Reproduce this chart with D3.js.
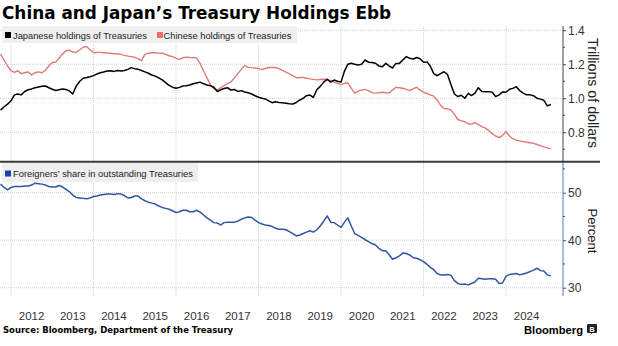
<!DOCTYPE html>
<html><head><meta charset="utf-8">
<script src="https://cdn.jsdelivr.net/npm/d3@7"></script>
<style>body{margin:0;background:#fff;} svg{display:block;font-family:"Liberation Sans",Arial,sans-serif;}</style>
</head><body><svg id="c" width="618" height="346"></svg>
<script>
// ---- data (monthly, Oct 2011 .. Feb 2025) ----
const firstMonth = new Date(2011, 9, 1);
const lastMonthExcl = new Date(2025, 2, 1);
const japan = [
0.93,0.95,0.965,0.985,1.02,1.025,1.02,1.04,1.05,1.055,
1.062,1.066,1.07,1.072,1.062,1.053,1.046,1.05,1.055,1.052,
1.043,1.025,1.072,1.1,1.118,1.122,1.127,1.133,1.143,1.15,
1.155,1.16,1.162,1.158,1.163,1.16,1.163,1.17,1.18,1.174,
1.17,1.163,1.155,1.147,1.137,1.13,1.12,1.108,1.092,1.076,
1.065,1.059,1.064,1.072,1.073,1.078,1.085,1.09,1.095,1.085,
1.078,1.074,1.065,1.04,1.05,1.057,1.062,1.048,1.052,1.04,
1.045,1.037,1.033,1.025,1.015,1.006,1.0,0.996,0.985,0.974,
0.98,0.975,0.974,0.971,0.968,0.966,0.975,0.99,1.0,1.015,
1.019,1.005,1.05,1.07,1.095,1.112,1.095,1.107,1.1,1.095,
1.16,1.2,1.206,1.2,1.195,1.2,1.225,1.212,1.21,1.206,
1.19,1.185,1.205,1.19,1.178,1.205,1.205,1.225,1.245,1.235,
1.231,1.24,1.232,1.212,1.214,1.19,1.145,1.133,1.145,1.156,
1.14,1.08,1.025,1.01,1.018,1.0,1.029,1.016,1.03,1.062,
1.04,1.039,1.039,1.035,1.01,1.02,1.037,1.035,1.053,1.058,
1.068,1.045,1.03,1.02,1.02,1.015,1.0,0.995,0.988,0.955,
0.963];
const china = [
1.26,1.225,1.19,1.162,1.152,1.162,1.145,1.15,1.155,1.137,
1.15,1.155,1.15,1.165,1.19,1.21,1.213,1.235,1.26,1.28,
1.282,1.272,1.27,1.285,1.3,1.305,1.285,1.268,1.27,1.27,
1.268,1.266,1.265,1.262,1.262,1.258,1.252,1.248,1.245,1.241,
1.232,1.221,1.258,1.265,1.268,1.268,1.266,1.265,1.258,1.25,
1.245,1.235,1.229,1.238,1.242,1.24,1.239,1.237,1.205,1.16,
1.12,1.08,1.055,1.05,1.062,1.075,1.086,1.096,1.12,1.145,
1.17,1.192,1.183,1.18,1.178,1.175,1.168,1.175,1.181,1.181,
1.181,1.174,1.164,1.153,1.143,1.132,1.121,1.122,1.122,1.118,
1.114,1.111,1.108,1.11,1.112,1.11,1.105,1.095,1.088,1.08,
1.088,1.09,1.058,1.03,1.042,1.048,1.052,1.045,1.033,1.03,
1.033,1.035,1.032,1.03,1.048,1.064,1.062,1.059,1.052,1.045,
1.055,1.065,1.048,1.035,1.028,1.02,1.012,0.99,0.958,0.94,
0.938,0.93,0.905,0.875,0.867,0.862,0.85,0.848,0.857,0.845,
0.833,0.826,0.81,0.792,0.778,0.768,0.78,0.804,0.778,0.762,
0.754,0.749,0.745,0.741,0.738,0.735,0.728,0.721,0.714,0.708,
0.702];
const foreignShare = [
51.8,51.1,50.6,51.1,51.3,51.3,51.3,51.4,51.4,51.6,
52.0,51.9,51.8,51.6,51.3,51.2,51.2,51.5,51.2,50.7,
50.2,49.5,49.0,48.9,48.8,48.7,48.9,49.2,49.3,49.5,
49.6,49.7,49.7,49.6,49.8,49.7,49.4,48.9,49.0,49.3,
49.3,48.7,48.3,48.0,47.8,47.6,47.2,46.9,46.7,46.5,
46.2,45.8,46.0,46.3,46.3,46.0,46.0,46.3,45.9,45.3,
44.7,44.2,43.7,43.6,43.2,43.7,43.8,43.8,43.8,44.0,
44.4,44.7,44.9,44.8,44.2,43.7,43.4,43.2,43.1,42.9,
42.5,42.3,42.3,42.2,41.8,41.4,40.9,41.1,41.4,41.7,
42.0,41.7,42.2,43.0,44.0,45.1,43.8,43.7,43.2,42.7,
43.8,44.7,43.0,41.4,41.0,40.6,40.1,39.7,39.3,39.0,
38.3,37.8,37.8,37.0,36.0,36.3,36.7,37.3,37.2,36.9,
36.3,36.2,35.9,35.5,34.9,34.3,33.8,33.0,32.7,32.7,
32.8,32.6,31.5,30.9,30.7,30.8,30.6,30.9,31.2,32.0,
31.9,31.8,31.9,31.9,31.8,30.9,31.0,32.4,32.8,32.9,
33.0,32.7,32.9,33.1,33.4,33.7,34.1,33.6,33.5,32.7,
32.5];
const holdingsTicks = [0.8, 1.0, 1.2, 1.4];
const holdingsMinor = [0.7, 0.9, 1.1, 1.3];
const shareTicks = [30, 40, 50];
const shareMinor = [35, 45, 55];
const yearLabels = [2012,2013,2014,2015,2016,2017,2018,2019,2020,2021,2022,2023,2024];
const gridYears = [2012,2014,2016,2018,2020,2022,2024];

// ---- chart ----
const svg = d3.select('#c');
const months = d3.timeMonth.range(firstMonth, lastMonthExcl);
const X0 = 0, X1 = 563;
const x = d3.scaleTime().domain([new Date(2012,0,1), new Date(2024,0,1)]).range([11, 506]);
const yTop = d3.scaleLinear().domain([0.628, 1.425]).range([161.5, 26]);
const yBot = d3.scaleLinear().domain([28.47, 56.35]).range([295, 162.5]);

function fit(sel, w){ const n = sel.node(); const fs = parseFloat(sel.attr('font-size')); const cur = n.getComputedTextLength(); if(cur>0) sel.attr('font-size', (fs*w/cur).toFixed(2)); return sel; }

svg.append('clipPath').attr('id','clip').append('rect').attr('x',X0).attr('y',20).attr('width',X1-X0).attr('height',290);

// title
fit(svg.append('text').attr('x',2).attr('y',19).attr('font-family','DejaVu Sans').attr('font-weight','bold')
  .attr('font-size',19).attr('fill','#000').text('China and Japan’s Treasury Holdings Ebb'), 389);

const grid = svg.append('g');
// vertical gridlines
gridYears.forEach(yr => {
  const gx = x(new Date(yr,0,1));
  grid.append('line').attr('x1',gx).attr('x2',gx).attr('y1',26).attr('y2',161)
    .attr('stroke','#cfcfcf').attr('stroke-width',1).attr('stroke-dasharray','1,1');
  grid.append('line').attr('x1',gx).attr('x2',gx).attr('y1',163).attr('y2',296)
    .attr('stroke','#cfcfcf').attr('stroke-width',1).attr('stroke-dasharray','1,1');
});
holdingsTicks.forEach(v => grid.append('line').attr('x1',X0).attr('x2',X1).attr('y1',yTop(v)).attr('y2',yTop(v))
  .attr('stroke','#cfcfcf').attr('stroke-dasharray','1,1'));
shareTicks.forEach(v => grid.append('line').attr('x1',X0).attr('x2',X1).attr('y1',yBot(v)).attr('y2',yBot(v))
  .attr('stroke','#cfcfcf').attr('stroke-dasharray','1,1'));

// lines
const lineTop = d3.line().x((d,i)=>x(months[i])).y(d=>yTop(d));
const lineBot = d3.line().x((d,i)=>x(months[i])).y(d=>yBot(d));
const lines = svg.append('g').attr('clip-path','url(#clip)');
lines.append('path').datum(china).attr('d',lineTop).attr('fill','none').attr('stroke','#e07a78').attr('stroke-width',1.4).attr('stroke-linejoin','round');
lines.append('path').datum(japan).attr('d',lineTop).attr('fill','none').attr('stroke','#000').attr('stroke-width',1.5).attr('stroke-linejoin','round');
lines.append('path').datum(foreignShare).attr('d',lineBot).attr('fill','none').attr('stroke','#2f56a3').attr('stroke-width',1.5).attr('stroke-linejoin','round');

// right axes
const axTop = svg.append('g').attr('transform',`translate(${X1},0)`);
axTop.call(d3.axisRight(yTop).tickValues(holdingsTicks).tickSize(3).tickFormat(d3.format('.1f')));
axTop.select('.domain').attr('d','M0,26V161.5').attr('stroke','#444');
axTop.selectAll('.tick line').attr('stroke','#444');
axTop.selectAll('.tick text').attr('x',5).attr('font-size',12).attr('font-family','Liberation Sans').attr('fill','#333');
holdingsMinor.forEach(v=>axTop.append('line').attr('x1',0).attr('x2',2).attr('y1',yTop(v)).attr('y2',yTop(v)).attr('stroke','#444'));

const axBot = svg.append('g').attr('transform',`translate(${X1},0)`);
axBot.call(d3.axisRight(yBot).tickValues(shareTicks).tickSize(3));
axBot.select('.domain').attr('d','M0,162.5V296').attr('stroke','#5a78b8');
axBot.selectAll('.tick line').attr('stroke','#2f56a3');
axBot.selectAll('.tick text').attr('x',5).attr('font-size',12).attr('font-family','Liberation Sans').attr('fill','#333');
shareMinor.forEach(v=>axBot.append('line').attr('x1',0).attr('x2',2).attr('y1',yBot(v)).attr('y2',yBot(v)).attr('stroke','#2f56a3'));

// axis titles
fit(svg.append('text').attr('transform','translate(588,93) rotate(90)').attr('text-anchor','middle')
  .attr('font-size',14).attr('fill','#222').text('Trillions of dollars'), 110);
fit(svg.append('text').attr('transform','translate(588,231) rotate(90)').attr('text-anchor','middle')
  .attr('font-size',14).attr('fill','#222').text('Percent'), 45);

// separator
svg.append('line').attr('x1',0).attr('x2',600).attr('y1',161.8).attr('y2',161.8).attr('stroke','#3a3a3a').attr('stroke-width',2);

// legends
svg.append('rect').attr('x',2).attr('y',26).attr('width',295).attr('height',17).attr('fill','#efefef');
svg.append('rect').attr('x',5).attr('y',32).attr('width',6).attr('height',6).attr('fill','#000');
fit(svg.append('text').attr('x',13).attr('y',38.5).attr('font-size',11).attr('fill','#222').text('Japanese holdings of Treasuries'), 134);
svg.append('rect').attr('x',157).attr('y',32).attr('width',6).attr('height',6).attr('fill','#e8716f');
fit(svg.append('text').attr('x',163.5).attr('y',38.5).attr('font-size',11).attr('fill','#222').text('Chinese holdings of Treasuries'), 128);

svg.append('rect').attr('x',2).attr('y',163).attr('width',196).attr('height',19).attr('fill','#efefef');
svg.append('rect').attr('x',5).attr('y',170.5).attr('width',6).attr('height',6).attr('fill','#1f3fa8');
fit(svg.append('text').attr('x',13).attr('y',177).attr('font-size',11).attr('fill','#222').text('Foreigners’ share in outstanding Treasuries'), 180);

// x labels
const xl = svg.append('g');
yearLabels.forEach(yr => {
  xl.append('text').attr('x', x(new Date(yr,6,1))).attr('y',320).attr('text-anchor','middle')
    .attr('font-size',11.5).attr('fill','#333').text(yr);
});

// footer
fit(svg.append('text').attr('x',3).attr('y',333).attr('font-family','DejaVu Sans').attr('font-weight','bold')
  .attr('font-size',10).attr('fill','#000').text('Source: Bloomberg, Department of the Treasury'), 230);
fit(svg.append('text').attr('x',524).attr('y',334).attr('font-weight','bold')
  .attr('font-size',12).attr('fill','#000').text('Bloomberg'), 59);
svg.append('rect').attr('x',587).attr('y',324).attr('width',10).attr('height',9).attr('rx',1).attr('fill','#222');
svg.append('path').attr('d','M591.5,333 l-2,3 l3,-3 z').attr('fill','#222');
svg.append('text').attr('x',592).attr('y',331.5).attr('text-anchor','middle').attr('font-size',7).attr('font-weight','bold').attr('fill','#fff').text('B');
</script></body></html>
